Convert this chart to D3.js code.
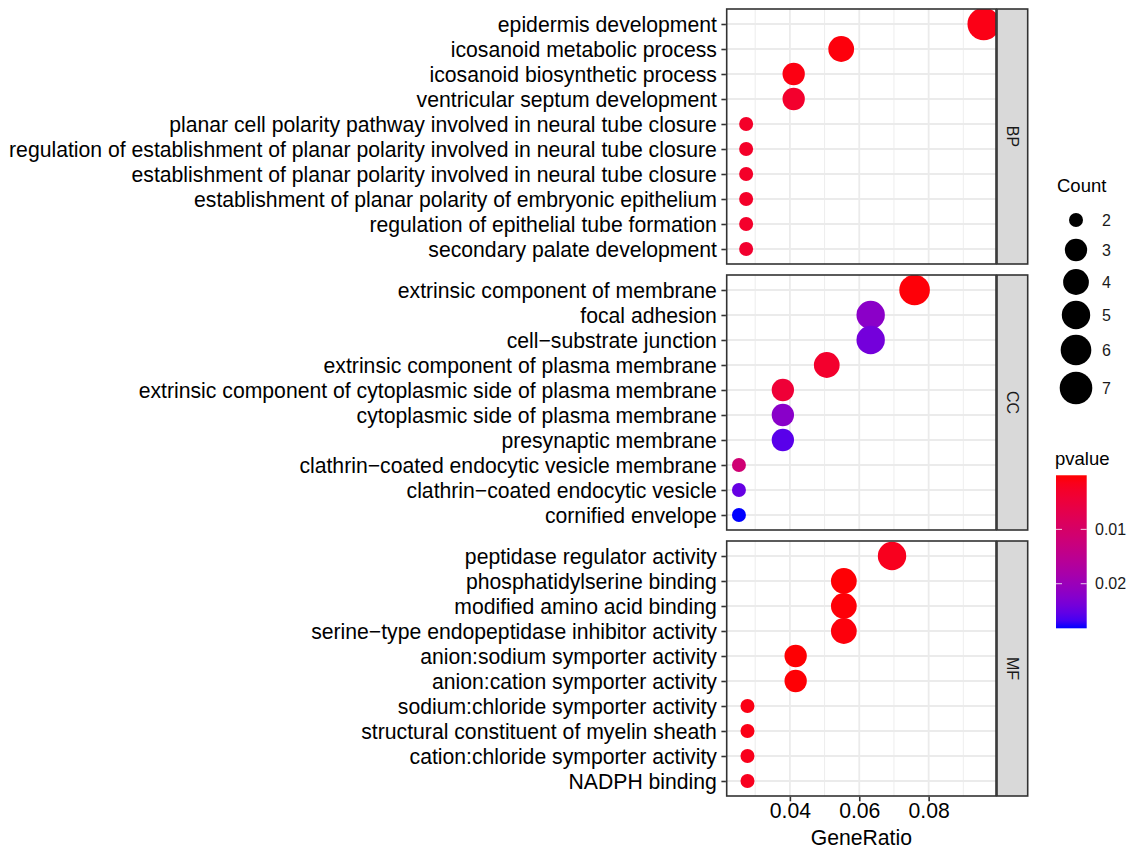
<!DOCTYPE html>
<html>
<head>
<meta charset="utf-8">
<script src="https://cdn.jsdelivr.net/npm/d3@7"></script>
<style>
  html, body { margin: 0; padding: 0; background: #ffffff; }
  svg { display: block; font-family: "Liberation Sans", Arial, Helvetica, sans-serif; }
</style>
</head>
<body>
<svg id="chart" width="1132" height="850"></svg>
<script>
// GO enrichment dot plot, faceted by ontology (BP / CC / MF)
const ontologies = ["BP", "CC", "MF"];

const bpTerms = [
  "epidermis development",
  "icosanoid metabolic process",
  "icosanoid biosynthetic process",
  "ventricular septum development",
  "planar cell polarity pathway involved in neural tube closure",
  "regulation of establishment of planar polarity involved in neural tube closure",
  "establishment of planar polarity involved in neural tube closure",
  "establishment of planar polarity of embryonic epithelium",
  "regulation of epithelial tube formation",
  "secondary palate development"
];
const bpCount = [7, 4, 3, 3, 2, 2, 2, 2, 2, 2];
const bpRatio = ["7/73", "4/73", "3/73", "3/73", "2/73", "2/73", "2/73", "2/73", "2/73", "2/73"];
const bpPvalue = [0.0012, 0.0006, 0.0009, 0.0032, 0.0028, 0.0028, 0.0028, 0.0028, 0.0030, 0.0034];

const ccTerms = [
  "extrinsic component of membrane",
  "focal adhesion",
  "cell\u2212substrate junction",
  "extrinsic component of plasma membrane",
  "extrinsic component of cytoplasmic side of plasma membrane",
  "cytoplasmic side of plasma membrane",
  "presynaptic membrane",
  "clathrin\u2212coated endocytic vesicle membrane",
  "clathrin\u2212coated endocytic vesicle",
  "cornified envelope"
];
const ccCount = [6, 5, 5, 4, 3, 3, 3, 2, 2, 2];
const ccRatio = ["6/79", "5/79", "5/79", "4/79", "3/79", "3/79", "3/79", "2/79", "2/79", "2/79"];
const ccPvalue = [0.0004, 0.0218, 0.0240, 0.0032, 0.0042, 0.0220, 0.0258, 0.0115, 0.0250, 0.0282];

const mfTerms = [
  "peptidase regulator activity",
  "phosphatidylserine binding",
  "modified amino acid binding",
  "serine\u2212type endopeptidase inhibitor activity",
  "anion:sodium symporter activity",
  "anion:cation symporter activity",
  "sodium:chloride symporter activity",
  "structural constituent of myelin sheath",
  "cation:chloride symporter activity",
  "NADPH binding"
];
const mfCount = [5, 4, 4, 4, 3, 3, 2, 2, 2, 2];
const mfRatio = ["5/72", "4/72", "4/72", "4/72", "3/72", "3/72", "2/72", "2/72", "2/72", "2/72"];
const mfPvalue = [0.0018, 0.0003, 0.0004, 0.0006, 0.0002, 0.0003, 0.0010, 0.0012, 0.0015, 0.0018];

const xTicks = [0.04, 0.06, 0.08];
const xMinorTicks = [0.03, 0.05, 0.07, 0.09];
const countBreaks = [2, 3, 4, 5, 6, 7];
const pvalueBreaks = [0.01, 0.02];
const pvalueLimits = [0.00005, 0.0282];

const parseRatio = s => { const [a, b] = s.split("/").map(Number); return a / b; };
const groups = [
  { name: ontologies[0], terms: bpTerms, count: bpCount, ratio: bpRatio, p: bpPvalue },
  { name: ontologies[1], terms: ccTerms, count: ccCount, ratio: ccRatio, p: ccPvalue },
  { name: ontologies[2], terms: mfTerms, count: mfCount, ratio: mfRatio, p: mfPvalue }
].map(g => ({
  name: g.name,
  rows: g.terms.map((t, i) => ({ term: t, count: g.count[i], ratio: parseRatio(g.ratio[i]), p: g.p[i] }))
}));

const svg = d3.select("#chart");
const FONT = 21.2;

// layout
const panelLeft = 726.7, panelRight = 996;
const stripW = 30.7;
const panelTops = [9, 275, 541], panelH = 255;

// scales
const allRows = groups.flatMap(g => g.rows);
const [rMin, rMax] = d3.extent(allRows, d => d.ratio);
const pad = (rMax - rMin) * 0.05;
const x = d3.scaleLinear().domain([rMin - pad, rMax + pad]).range([panelLeft, panelRight]);

// point area grows linearly with Count
const sizeT = d3.scaleLinear().domain(d3.extent(countBreaks)).range([0, 1]);
const radiusLin = d3.scaleLinear().domain([0, 1]).range([7, 16.3]);
const radius = c => radiusLin(Math.sqrt(sizeT(c)));

const color = d3.scaleLinear().domain(pvalueLimits).range(["#FF0000", "#0000FF"])
  .interpolate(d3.interpolateLab).clamp(true);

const defs = svg.append("defs");

groups.forEach((g, gi) => {
  const top = panelTops[gi];
  const y = d3.scalePoint().domain(g.rows.map(d => d.term)).range([top, top + panelH]).padding(0.6);
  const panel = svg.append("g");
  const clipId = "clip" + gi;
  defs.append("clipPath").attr("id", clipId)
    .append("rect").attr("x", panelLeft).attr("y", top).attr("width", panelRight - panelLeft).attr("height", panelH);

  panel.append("rect").attr("x", panelLeft).attr("y", top).attr("width", panelRight - panelLeft).attr("height", panelH)
    .attr("fill", "#ffffff");

  // minor grid
  panel.selectAll(".xminor").data(xMinorTicks).join("line")
    .attr("x1", d => x(d)).attr("x2", d => x(d)).attr("y1", top).attr("y2", top + panelH)
    .attr("stroke", "#EBEBEB").attr("stroke-width", 0.9);
  // major grid
  panel.selectAll(".xmajor").data(xTicks).join("line")
    .attr("x1", d => x(d)).attr("x2", d => x(d)).attr("y1", top).attr("y2", top + panelH)
    .attr("stroke", "#EBEBEB").attr("stroke-width", 1.8);
  panel.selectAll(".ymajor").data(g.rows).join("line")
    .attr("x1", panelLeft).attr("x2", panelRight).attr("y1", d => y(d.term)).attr("y2", d => y(d.term))
    .attr("stroke", "#EBEBEB").attr("stroke-width", 1.8);

  // points
  panel.append("g").attr("clip-path", `url(#${clipId})`)
    .selectAll("circle").data(g.rows).join("circle")
    .attr("cx", d => x(d.ratio)).attr("cy", d => y(d.term))
    .attr("r", d => radius(d.count))
    .attr("fill", d => color(d.p));

  // panel border
  panel.append("rect").attr("x", panelLeft).attr("y", top).attr("width", panelRight - panelLeft).attr("height", panelH)
    .attr("fill", "none").attr("stroke", "#333333").attr("stroke-width", 1.6);

  // y axis
  const yAxis = d3.axisLeft(y).tickSize(4.5).tickPadding(4.5);
  const ya = panel.append("g").attr("transform", `translate(${panelLeft - 0.8},0)`).call(yAxis);
  ya.select(".domain").remove();
  ya.selectAll(".tick line").attr("stroke", "#333333").attr("stroke-width", 1.6);
  ya.selectAll(".tick text").attr("fill", "#000000").attr("font-size", FONT)
    .attr("font-family", "Liberation Sans, Arial, sans-serif").attr("dy", "0.35em");

  // facet strip
  const sx = panelRight + 1;
  panel.append("rect").attr("x", sx).attr("y", top).attr("width", stripW).attr("height", panelH)
    .attr("fill", "#D9D9D9").attr("stroke", "#333333").attr("stroke-width", 1.6);
  panel.append("text")
    .attr("transform", `translate(${sx + stripW / 2},${top + panelH / 2}) rotate(90)`)
    .attr("text-anchor", "middle").attr("dy", "0.35em")
    .attr("font-size", 16).attr("fill", "#1A1A1A").text(g.name);

  // x axis under the last panel
  if (gi === groups.length - 1) {
    const xAxis = d3.axisBottom(x).tickValues(xTicks).tickFormat(d3.format(".2f")).tickSize(4.5).tickPadding(2);
    const xa = panel.append("g").attr("transform", `translate(0,${top + panelH + 0.8})`).call(xAxis);
    xa.select(".domain").remove();
    xa.selectAll(".tick line").attr("stroke", "#333333").attr("stroke-width", 1.6);
    xa.selectAll(".tick text").attr("fill", "#000000").attr("font-size", FONT)
      .attr("font-family", "Liberation Sans, Arial, sans-serif");
    svg.append("text").attr("x", (panelLeft + panelRight) / 2).attr("y", 845)
      .attr("text-anchor", "middle").attr("font-size", FONT).attr("fill", "#000").text("GeneRatio");
  }
});

// size legend
const leg = svg.append("g");
leg.append("text").attr("x", 1057).attr("y", 192).attr("font-size", 18.5).attr("fill", "#000").text("Count");
const keyYs = [220, 250, 282, 315, 350, 388];
leg.selectAll(".key").data(countBreaks).join("circle")
  .attr("cx", 1076).attr("cy", (d, i) => keyYs[i]).attr("r", d => radius(d)).attr("fill", "#000");
leg.selectAll(".keylab").data(countBreaks).join("text")
  .attr("x", 1102).attr("y", (d, i) => keyYs[i]).attr("dy", "0.35em")
  .attr("font-size", 16).attr("fill", "#1A1A1A").text(d => d);

// colour bar legend
const barX = 1056, barW = 30.7, barTop = 475, barBot = 628.3;
const pY = d3.scaleLinear().domain([0, pvalueLimits[1]]).range([barTop, barBot]);
const grad = defs.append("linearGradient").attr("id", "pgrad").attr("x1", 0).attr("x2", 0).attr("y1", 0).attr("y2", 1);
d3.range(0, 1.0001, 0.05).forEach(t => {
  const pv = pvalueLimits[0] + t * (pvalueLimits[1] - pvalueLimits[0]);
  grad.append("stop").attr("offset", t).attr("stop-color", color(pv));
});
leg.append("text").attr("x", 1055).attr("y", 465).attr("font-size", 18.5).attr("fill", "#000").text("pvalue");
leg.append("rect").attr("x", barX).attr("y", pY(pvalueLimits[0])).attr("width", barW)
  .attr("height", pY(pvalueLimits[1]) - pY(pvalueLimits[0])).attr("fill", "url(#pgrad)");
pvalueBreaks.forEach(b => {
  leg.append("line").attr("x1", barX).attr("x2", barX + 6).attr("y1", pY(b)).attr("y2", pY(b))
    .attr("stroke", "#ffffff").attr("stroke-width", 1).attr("opacity", 0.8);
  leg.append("line").attr("x1", barX + barW - 6).attr("x2", barX + barW).attr("y1", pY(b)).attr("y2", pY(b))
    .attr("stroke", "#ffffff").attr("stroke-width", 1).attr("opacity", 0.8);
  leg.append("text").attr("x", 1095).attr("y", pY(b)).attr("dy", "0.35em")
    .attr("font-size", 16).attr("fill", "#1A1A1A").text(d3.format(".2f")(b));
});
</script>
</body>
</html>
